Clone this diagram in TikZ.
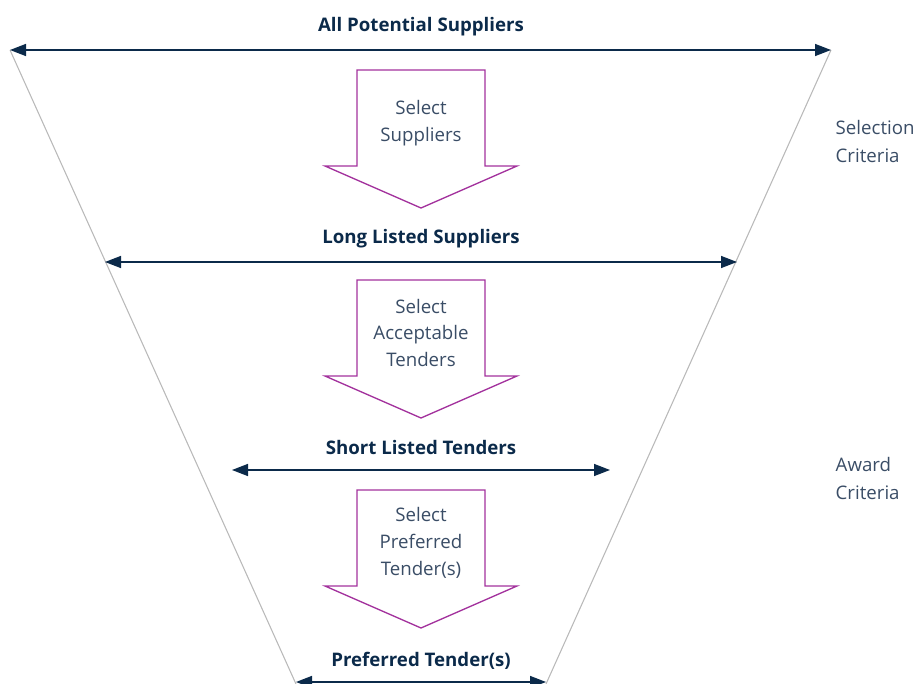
\documentclass[tikz,border=0pt]{standalone}
\usepackage{fontspec}
\setmainfont{Open Sans}
\usetikzlibrary{arrows.meta,positioning}
\definecolor{navy}{HTML}{0B2A4A}
\definecolor{plum}{HTML}{A3329D}
\definecolor{greytext}{HTML}{3A4D66}
\begin{document}
\begin{tikzpicture}
[x=0.75pt,y=-0.75pt,
 level/.style = {draw=navy, line width=1.1pt, {Triangle[length=12pt,width=9pt]}-{Triangle[length=12pt,width=9pt]}},
 stage/.style = {font=\fontsize{14}{15}\selectfont\bfseries, text=navy},
 blockarrow/.style = {draw=plum, line width=1pt, fill=white},
 steptext/.style = {font=\fontsize{14}{20}\selectfont, text=greytext, align=center},
 criteria/.style = {font=\fontsize{14}{21}\selectfont, text=greytext, align=left, anchor=west},]
\useasboundingbox (0,0) rectangle (918,684);
% funnel
\coordinate (TL) at (10,50);
\coordinate (TR) at (831,50);
\coordinate (BL) at (296,684);
\coordinate (BR) at (546,684);
\draw[gray!55, line width=0.8pt] (TL)--(BL);
\draw[gray!55, line width=0.8pt] (TR)--(BR);
% levels
\coordinate (L1a) at (10,50);   \coordinate (L1b) at (831,50);
\coordinate (L2a) at (105,262); \coordinate (L2b) at (737,262);
\coordinate (L3a) at (232,470); \coordinate (L3b) at (610,470);
\coordinate (L4a) at (296,682); \coordinate (L4b) at (546,682);
\draw[level] (L1a)--(L1b);
\draw[level] (L2a)--(L2b);
\draw[level] (L3a)--(L3b);
\draw[level] (L4a)--(L4b);
\node (all) at (421,27) [stage] {All Potential Suppliers};
\node (long) at (421,239) [stage] {Long Listed Suppliers};
\node (short) at (421,447) [stage] {Short Listed Tenders};
\node (pref) at (421,661) [stage] {Preferred Tender(s)};
% block arrows
\foreach \t/\name/\txt in {70/sel1/{Select\\Suppliers},280/sel2/{Select\\Acceptable\\Tenders},490/sel3/{Select\\Preferred\\Tender(s)}}
{
\draw[blockarrow] (357,\t)--(485,\t)--(485,\t+96)--(517,\t+96)--(421,\t+138)--(325,\t+96)--(357,\t+96)--cycle;
\node (\name) at (421,\t+53) [steptext] {\txt};
}
% criteria
\node (selcrit) at (831,142) [criteria] {Selection\\Criteria};
\node (awcrit) at (831,478) [criteria] {Award\\Criteria};
\end{tikzpicture}
\end{document}
